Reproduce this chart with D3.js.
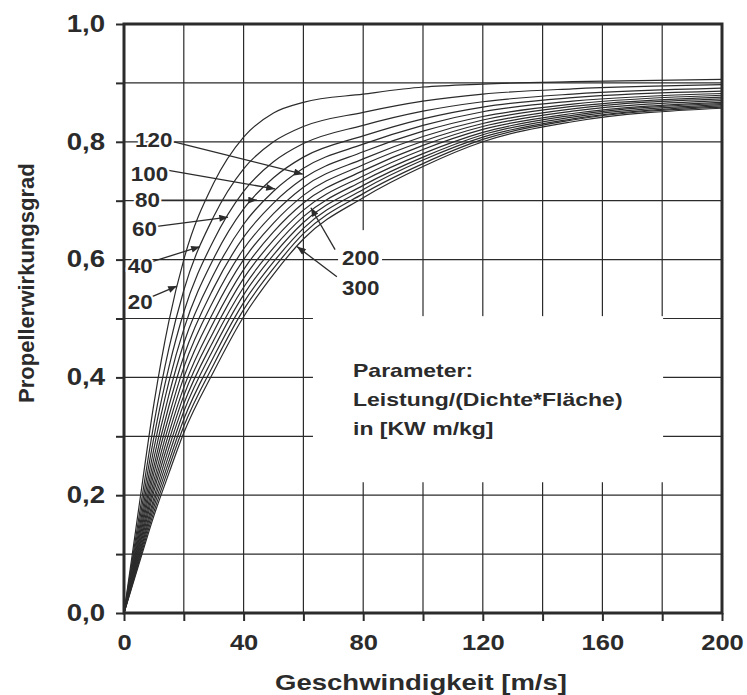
<!DOCTYPE html>
<html>
<head>
<meta charset="utf-8">
<script src="https://cdn.jsdelivr.net/npm/d3@7/dist/d3.min.js"></script>
<style>
  body { margin: 0; background: #fff; }
  svg { display: block; font-family: "Liberation Sans", Arial, sans-serif; }
</style>
</head>
<body>
<svg id="svg" width="747" height="695"></svg>
<script>
const speeds = [0, 5, 10, 15, 20, 30, 40, 50, 60, 80, 100, 120, 150, 200]

// parameter Leistung/(Dichte*Fläche) in kW m/kg
const params = [20, 40, 60, 80, 100, 120, 140, 160, 180, 200, 220, 240, 260, 280, 300]

// propeller efficiency for each parameter
const eta20 = [0, 0.180, 0.355, 0.495, 0.600, 0.730, 0.808, 0.849, 0.867, 0.881, 0.893, 0.898, 0.902, 0.906]
const eta40 = [0, 0.163, 0.321, 0.449, 0.548, 0.673, 0.754, 0.800, 0.826, 0.850, 0.869, 0.881, 0.890, 0.897]
const eta60 = [0, 0.151, 0.298, 0.417, 0.511, 0.633, 0.716, 0.766, 0.797, 0.828, 0.852, 0.868, 0.881, 0.891]
const eta80 = [0, 0.141, 0.279, 0.392, 0.482, 0.602, 0.686, 0.739, 0.774, 0.810, 0.839, 0.859, 0.875, 0.886]
const eta100 = [0, 0.133, 0.263, 0.370, 0.458, 0.575, 0.660, 0.716, 0.755, 0.796, 0.828, 0.851, 0.869, 0.882]
const eta120 = [0, 0.126, 0.249, 0.351, 0.436, 0.552, 0.638, 0.696, 0.738, 0.783, 0.818, 0.843, 0.864, 0.879]
const eta140 = [0, 0.120, 0.237, 0.334, 0.417, 0.531, 0.618, 0.678, 0.723, 0.771, 0.809, 0.837, 0.860, 0.876]
const eta160 = [0, 0.114, 0.225, 0.319, 0.400, 0.512, 0.600, 0.662, 0.709, 0.761, 0.801, 0.831, 0.856, 0.873]
const eta180 = [0, 0.109, 0.215, 0.305, 0.383, 0.494, 0.583, 0.647, 0.696, 0.751, 0.794, 0.826, 0.852, 0.870]
const eta200 = [0, 0.104, 0.206, 0.292, 0.369, 0.478, 0.568, 0.633, 0.684, 0.742, 0.787, 0.821, 0.848, 0.867]
const eta220 = [0, 0.099, 0.196, 0.280, 0.355, 0.463, 0.553, 0.620, 0.673, 0.734, 0.780, 0.816, 0.845, 0.865]
const eta240 = [0, 0.095, 0.188, 0.268, 0.342, 0.449, 0.540, 0.608, 0.663, 0.726, 0.774, 0.812, 0.842, 0.863]
const eta260 = [0, 0.091, 0.180, 0.257, 0.329, 0.435, 0.527, 0.596, 0.653, 0.719, 0.769, 0.808, 0.839, 0.861]
const eta280 = [0, 0.087, 0.172, 0.247, 0.317, 0.422, 0.515, 0.585, 0.644, 0.712, 0.763, 0.804, 0.837, 0.859]
const eta300 = [0, 0.083, 0.165, 0.237, 0.306, 0.410, 0.503, 0.575, 0.635, 0.705, 0.758, 0.800, 0.834, 0.857]

const curves = [eta20, eta40, eta60, eta80, eta100, eta120, eta140, eta160,
  eta180, eta200, eta220, eta240, eta260, eta280, eta300]

// axis ticks
const xTicks = [0, 20, 40, 60, 80, 100, 120, 140, 160, 180, 200]
const xLabels = [0, 40, 80, 120, 160, 200]
const yTicks = [0, 0.1, 0.2, 0.3, 0.4, 0.5, 0.6, 0.7, 0.8, 0.9, 1.0]
const yLabels = [0, 0.2, 0.4, 0.6, 0.8, 1.0]

// curve callouts: label, label anchor, line start, arrow tip (speed, efficiency)
const callouts = [
  { text: '120', at: [3.7, 0.804], from: [16.7, 0.800], to: [59.8, 0.745] },
  { text: '100', at: [2.3, 0.746], from: [14.4, 0.752], to: [50.5, 0.720] },
  { text: '80', at: [3.7, 0.701], from: [11.4, 0.701], to: [44.5, 0.701] },
  { text: '60', at: [2.7, 0.652], from: [10.4, 0.656], to: [34.8, 0.672] },
  { text: '40', at: [1.3, 0.590], from: [9.7, 0.597], to: [25.4, 0.622] },
  { text: '20', at: [1.3, 0.528], from: [9.4, 0.537], to: [17.7, 0.555] },
  { text: '200', at: [72.9, 0.603], from: [70.6, 0.617], to: [62.5, 0.688] },
  { text: '300', at: [72.9, 0.552], from: [71.2, 0.571], to: [57.9, 0.622] }
]

const paramText = ['Parameter:', 'Leistung/(Dichte*Fläche)', 'in [KW m/kg]']

const ink = '#2b2b2b'
const fmt = d => d3.format('.1f')(d).replace('.', ',')

let svg = d3.select('#svg')

let x = d3.scaleLinear().domain([0, 200]).range([124, 722])
let y = d3.scaleLinear().domain([0, 1]).range([613, 24])

// scanned text is a bit wider than the font, so widen it
function stretch(sel, k) {
  sel.each(function () {
    let w = this.getComputedTextLength()
    if (w > 0) {
      d3.select(this).attr('textLength', w * k).attr('lengthAdjust', 'spacingAndGlyphs')
    }
  })
}

svg.append('defs').append('marker')
  .attr('id', 'arrow')
  .attr('viewBox', '0 0 10 8')
  .attr('refX', 10).attr('refY', 4)
  .attr('markerUnits', 'userSpaceOnUse')
  .attr('markerWidth', 10).attr('markerHeight', 7)
  .attr('orient', 'auto')
  .append('path')
  .attr('d', 'M0,0 L10,4 L0,8 Z')
  .attr('fill', ink)

// grid
let grid = svg.append('g')
grid.selectAll('.vx')
  .data(xTicks.slice(1, -1))
  .enter()
  .append('line')
  .attr('x1', d => x(d)).attr('x2', d => x(d))
  .attr('y1', y(0)).attr('y2', y(1))
  .attr('stroke', ink).attr('stroke-width', 1.2)
grid.selectAll('.hy')
  .data(yTicks.slice(1, -1))
  .enter()
  .append('line')
  .attr('x1', x(0)).attr('x2', x(200))
  .attr('y1', d => y(d)).attr('y2', d => y(d))
  .attr('stroke', ink).attr('stroke-width', 1.2)

// blank areas behind the parameter note and the 200/300 labels
svg.append('rect')
  .attr('x', x(63.2)).attr('y', y(0.504))
  .attr('width', x(180.3) - x(63.2)).attr('height', y(0.222) - y(0.504))
  .attr('fill', '#fff')
svg.append('rect')
  .attr('x', x(71.6)).attr('y', y(0.650))
  .attr('width', x(86.3) - x(71.6)).attr('height', y(0.501) - y(0.650))
  .attr('fill', '#fff')

// curves
let line = d3.line()
  .x((d, i) => x(speeds[i]))
  .y(d => y(d))
  .curve(d3.curveMonotoneX)

svg.append('g').selectAll('path')
  .data(curves)
  .enter()
  .append('path')
  .attr('d', d => line(d))
  .attr('data-param', (d, i) => params[i])
  .attr('fill', 'none')
  .attr('stroke', ink)
  .attr('stroke-width', 1.2)

// axes
let yAxis = svg.append('g')
  .attr('transform', 'translate(' + x(0) + ',0)')
  .call(d3.axisLeft(y).tickValues(yTicks).tickSize(8).tickPadding(11)
    .tickFormat(d => yLabels.some(v => Math.abs(v - d) < 1e-6) ? fmt(d) : ''))
yAxis.select('.domain').remove()
yAxis.selectAll('line').attr('stroke', ink).attr('stroke-width', 2)
yAxis.selectAll('text')
  .attr('fill', ink)
  .style('font-size', '23px')
  .style('font-weight', 'bold')
  .call(stretch, 1.2)

let xAxis = svg.append('g')
  .attr('transform', 'translate(0,' + y(0) + ')')
  .call(d3.axisBottom(x).tickValues(xTicks).tickSize(8).tickPadding(13)
    .tickFormat(d => xLabels.includes(d) ? d : ''))
xAxis.select('.domain').remove()
xAxis.selectAll('line').attr('stroke', ink).attr('stroke-width', 2)
xAxis.selectAll('text')
  .attr('fill', ink)
  .style('font-size', '22px')
  .style('font-weight', 'bold')
  .call(stretch, 1.16)

// frame
svg.append('rect')
  .attr('x', x(0)).attr('y', y(1))
  .attr('width', x(200) - x(0)).attr('height', y(0) - y(1))
  .attr('fill', 'none')
  .attr('stroke', ink)
  .attr('stroke-width', 3)

// callouts
let notes = svg.append('g')
notes.selectAll('line')
  .data(callouts)
  .enter()
  .append('line')
  .attr('x1', d => x(d.from[0])).attr('y1', d => y(d.from[1]))
  .attr('x2', d => x(d.to[0])).attr('y2', d => y(d.to[1]))
  .attr('stroke', ink)
  .attr('stroke-width', 1.3)
  .attr('marker-end', 'url(#arrow)')
notes.selectAll('text')
  .data(callouts)
  .enter()
  .append('text')
  .attr('x', d => x(d.at[0]))
  .attr('y', d => y(d.at[1]))
  .attr('dy', '0.36em')
  .attr('fill', ink)
  .attr('stroke', '#fff')
  .attr('stroke-width', 4)
  .attr('paint-order', 'stroke')
  .style('font-size', '20px')
  .style('font-weight', 'bold')
  .text(d => d.text)
  .call(stretch, 1.12)

// parameter note
svg.append('g').selectAll('text')
  .data(paramText)
  .enter()
  .append('text')
  .attr('x', x(76.6))
  .attr('y', (d, i) => y(0.40) + i * 29)
  .attr('fill', ink)
  .style('font-size', '19px')
  .style('font-weight', 'bold')
  .text(d => d)
  .call(stretch, 1.21)

// axis titles
svg.append('text')
  .attr('transform', 'translate(34,' + y(0.56) + ') rotate(-90)')
  .attr('text-anchor', 'middle')
  .attr('fill', ink)
  .style('font-size', '22px')
  .style('font-weight', 'bold')
  .text('Propellerwirkungsgrad')

svg.append('text')
  .attr('x', x(100) - 2)
  .attr('y', 690)
  .attr('text-anchor', 'middle')
  .attr('fill', ink)
  .style('font-size', '22px')
  .style('font-weight', 'bold')
  .text('Geschwindigkeit [m/s]')
  .call(stretch, 1.25)
</script>
</body>
</html>
